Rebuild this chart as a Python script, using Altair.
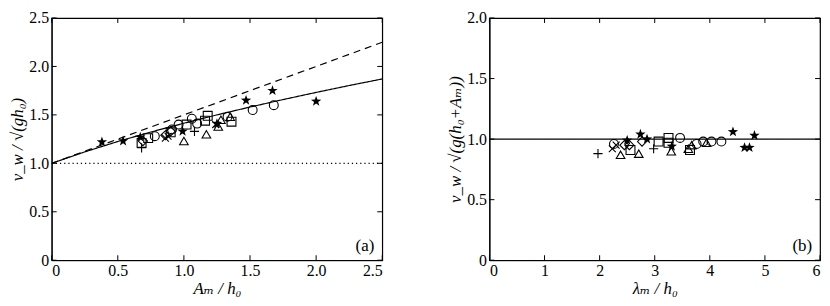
import altair as alt
import pandas as pd

# ---------------- data: panel (a) ----------------
star_a_x = [0.38, 0.54, 0.67, 0.99, 1.25, 1.47, 1.67, 2.00]
star_a_y = [1.22, 1.23, 1.27, 1.33, 1.41, 1.65, 1.75, 1.64]
circ_a_x = [0.78, 0.91, 0.96, 1.06, 1.10, 1.33, 1.52, 1.68]
circ_a_y = [1.28, 1.35, 1.40, 1.46, 1.41, 1.48, 1.55, 1.60]
sq_a_x = [0.68, 0.73, 0.90, 1.02, 1.16, 1.18, 1.36]
sq_a_y = [1.21, 1.26, 1.32, 1.40, 1.44, 1.49, 1.43]
tri_a_x = [1.00, 1.17, 1.26, 1.28, 1.35]
tri_a_y = [1.23, 1.30, 1.38, 1.45, 1.48]
dia_a_x = [0.69, 0.86, 0.90]
dia_a_y = [1.23, 1.29, 1.33]
x_a_x = [0.86, 0.88, 1.24]
x_a_y = [1.26, 1.28, 1.40]
plus_a_x = [0.68, 1.08]
plus_a_y = [1.16, 1.33]

# theory curves
solid_a_x = [0.0, 0.25, 0.5, 0.75, 1.0, 1.25, 1.5, 1.75, 2.0, 2.25, 2.5]
solid_a_y = [1.0, 1.118, 1.225, 1.323, 1.414, 1.5, 1.581, 1.658, 1.732, 1.803, 1.871]
dash_a_x = [0.0, 2.5]
dash_a_y = [1.0, 2.25]
dot_a_x = [0.0, 2.5]
dot_a_y = [1.0, 1.0]

# ---------------- data: panel (b) ----------------
star_b_x = [2.50, 2.74, 2.86, 3.31, 4.42, 4.63, 4.72, 4.81]
star_b_y = [0.99, 1.04, 1.00, 0.94, 1.06, 0.93, 0.93, 1.03]
circ_b_x = [2.26, 3.46, 3.76, 3.88, 4.03, 4.21]
circ_b_y = [0.96, 1.01, 0.96, 0.98, 0.98, 0.98]
sq_b_x = [2.56, 3.07, 3.25, 3.25, 3.64]
sq_b_y = [0.91, 0.98, 1.01, 0.97, 0.91]
tri_b_x = [2.38, 2.71, 3.30, 3.61, 3.67, 3.94]
tri_b_y = [0.87, 0.88, 0.90, 0.92, 0.95, 0.97]
dia_b_x = [2.45, 2.54, 2.77]
dia_b_y = [0.95, 0.95, 0.98]
x_b_x = [2.23, 2.30]
x_b_y = [0.92, 0.95]
plus_b_x = [1.97, 2.98]
plus_b_y = [0.88, 0.92]

line_b_x = [0.0, 6.0]
line_b_y = [1.0, 1.0]

# ticks / labels
ticks_a_x = [0, 0.5, 1.0, 1.5, 2.0, 2.5]
ticks_a_y = [0, 0.5, 1.0, 1.5, 2.0, 2.5]
ticks_b_x = [0, 1, 2, 3, 4, 5, 6]
ticks_b_y = [0, 0.5, 1.0, 1.5, 2.0]

W, H = 333, 244
FONT = "Liberation Serif, Tinos, Times New Roman, DejaVu Serif, serif"

PLUS = "M -1 0 L 1 0 M 0 -1 L 0 1"
CROSS = "M -0.75 -0.75 L 0.75 0.75 M -0.75 0.75 L 0.75 -0.75"
STAR = ("M 0 -1 L 0.235 -0.324 L 0.951 -0.309 L 0.38 0.124 L 0.588 0.809 "
        "L 0 0.4 L -0.588 0.809 L -0.38 0.124 L -0.951 -0.309 L -0.235 -0.324 Z")

DEC = "datum.value == 0 ? '0' : format(datum.value, '.1f')"
INT = "format(datum.value, 'd')"


def panel(series, lines, xdom, ydom, xt, yt, xtitle, ytitle, tag, xfmt):
    xs = alt.Scale(domain=xdom, nice=False, zero=False)
    ys = alt.Scale(domain=ydom, nice=False, zero=False)
    xaxis = alt.Axis(values=xt, title=xtitle, grid=False, ticks=False,
                     labelExpr=xfmt, labelFont=FONT, labelFontSize=16,
                     titleFont=FONT, titleFontSize=17, titleFontStyle="italic",
                     titleFontWeight="normal", labelColor="black",
                     titleColor="black", domainColor="black", labelPadding=2,
                     titlePadding=3)
    yaxis = alt.Axis(values=yt, title=ytitle, grid=False, ticks=False,
                     labelExpr=DEC, labelFont=FONT, labelFontSize=16,
                     titleFont=FONT, titleFontSize=17, titleFontStyle="italic",
                     titleFontWeight="normal", labelColor="black",
                     titleColor="black", domainColor="black", labelPadding=3,
                     titlePadding=2)
    layers = []
    first = True
    for (lx, ly, dash) in lines:
        df = pd.DataFrame({"x": lx, "y": ly})
        m = alt.Chart(df).mark_line(color="black", strokeWidth=1.2,
                                    strokeDash=dash, clip=True)
        if first:
            m = m.encode(x=alt.X("x:Q", scale=xs, axis=xaxis),
                         y=alt.Y("y:Q", scale=ys, axis=yaxis))
            first = False
        else:
            m = m.encode(x=alt.X("x:Q", scale=xs), y=alt.Y("y:Q", scale=ys))
        layers.append(m)
    for (px, py, shape, filled, size) in series:
        df = pd.DataFrame({"x": px, "y": py})
        if filled:
            m = alt.Chart(df).mark_point(shape=shape, filled=True,
                                         color="black", size=size, opacity=1)
        else:
            m = alt.Chart(df).mark_point(shape=shape, filled=False,
                                         color="black", size=size,
                                         strokeWidth=1.1, opacity=1)
        layers.append(m.encode(x=alt.X("x:Q", scale=xs),
                               y=alt.Y("y:Q", scale=ys)))
    # inward ticks
    tx = pd.DataFrame({"v": xt})
    ty = pd.DataFrame({"v": yt})
    layers.append(alt.Chart(tx).mark_rule(color="black").encode(
        x=alt.X("v:Q", scale=xs), y=alt.value(H), y2=alt.value(H - 5)))
    layers.append(alt.Chart(tx).mark_rule(color="black").encode(
        x=alt.X("v:Q", scale=xs), y=alt.value(0), y2=alt.value(5)))
    layers.append(alt.Chart(ty).mark_rule(color="black").encode(
        y=alt.Y("v:Q", scale=ys), x=alt.value(0), x2=alt.value(5)))
    layers.append(alt.Chart(ty).mark_rule(color="black").encode(
        y=alt.Y("v:Q", scale=ys), x=alt.value(W - 5), x2=alt.value(W)))
    layers.append(alt.Chart(pd.DataFrame({"t": [tag]})).mark_text(
        font=FONT, fontSize=17, align="right", baseline="bottom",
        color="black").encode(text="t:N", x=alt.value(W - 8),
                              y=alt.value(H - 5)))
    return alt.layer(*layers).properties(width=W, height=H)


series_a = [
    (circ_a_x, circ_a_y, "circle", False, 80),
    (sq_a_x, sq_a_y, "square", False, 80),
    (tri_a_x, tri_a_y, "triangle-up", False, 75),
    (dia_a_x, dia_a_y, "diamond", False, 85),
    (x_a_x, x_a_y, CROSS, False, 85),
    (plus_a_x, plus_a_y, PLUS, False, 85),
    (star_a_x, star_a_y, STAR, True, 120),
]
lines_a = [
    (solid_a_x, solid_a_y, [1, 0]),
    (dash_a_x, dash_a_y, [7, 5]),
    (dot_a_x, dot_a_y, [1.2, 3]),
]
series_b = [
    (circ_b_x, circ_b_y, "circle", False, 80),
    (sq_b_x, sq_b_y, "square", False, 80),
    (tri_b_x, tri_b_y, "triangle-up", False, 75),
    (dia_b_x, dia_b_y, "diamond", False, 85),
    (x_b_x, x_b_y, CROSS, False, 85),
    (plus_b_x, plus_b_y, PLUS, False, 85),
    (star_b_x, star_b_y, STAR, True, 120),
]
lines_b = [(line_b_x, line_b_y, [1, 0])]

left = panel(series_a, lines_a, [0, 2.5], [0, 2.5], ticks_a_x, ticks_a_y,
             "Aₘ / h₀", "v_w / √(gh₀)", "(a)", DEC)
right = panel(series_b, lines_b, [0, 6], [0, 2.0], ticks_b_x, ticks_b_y,
              "λₘ / h₀", "v_w / √(g(h₀+Aₘ))", "(b)", INT)

chart = alt.hconcat(left, right, spacing=62).properties(
    padding={"left": 0, "top": 0, "right": 0, "bottom": 0},
    background="white",
).configure_view(stroke="black", strokeWidth=1.2)

chart.save("out.html", embed_options={"renderer": "svg", "actions": False})
